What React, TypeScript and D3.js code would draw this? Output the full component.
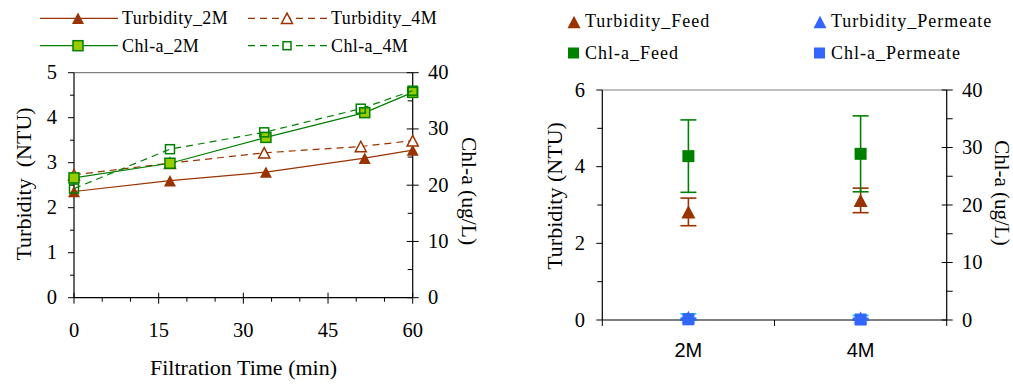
import * as d3 from 'd3';

// left panel: time series
const times2M = [0, 17, 34, 51.5, 60];
const times4M = [0, 17, 33.7, 50.8, 60];
const turbidity2M = [2.36, 2.6, 2.79, 3.1, 3.28];
const turbidity4M = [2.73, 2.99, 3.22, 3.36, 3.49];
const chla2M = [21.3, 23.9, 28.5, 32.9, 36.5];
const chla4M = [19.4, 26.4, 29.4, 33.6, 36.8];

const timeTicks = [0, 15, 30, 45, 60];
const turbTicksL = [0, 1, 2, 3, 4, 5];
const chlTicks = [0, 10, 20, 30, 40];

// right panel: feed vs permeate
const categories = ['2M', '4M'];
const turbFeed = [2.82, 3.12];
const turbFeedErr = [0.36, 0.32];
const turbPerm = [0.08, 0.06];
const turbPermErr = [0.08, 0.06];
const chlFeed = [28.5, 28.9];
const chlFeedErr = [6.3, 6.6];
const chlPerm = [0.12, 0.08];
const chlPermErr = [0.2, 0.2];
const turbTicksR = [0, 2, 4, 6];

const BROWN = '#993300';
const GREEN = '#008000';
const LIGHT = '#99CC00';
const BLUE = '#3366FF';
const CYAN = '#00CCFF';
const SERIF = '"Liberation Serif", "Times New Roman", serif';
const SANS = '"Liberation Sans", Arial, sans-serif';

const tri = (cx: number, cy: number, w: number) => {
  const h = w * 0.95;
  return `M${cx},${cy - h / 2}L${cx + w / 2},${cy + h / 2}L${cx - w / 2},${cy + h / 2}Z`;
};

function LeftChart() {
  const x = d3.scaleLinear().domain([0, 60]).range([74, 412.7]);
  const yT = d3.scaleLinear().domain([0, 5]).range([297.7, 72.7]);
  const yC = d3.scaleLinear().domain([0, 40]).range([297.7, 72.7]);
  const [x0, x1] = x.range();
  const [yb, yt] = yT.range();

  const line = (xs: number[], ys: number[], ysc: d3.ScaleLinear<number, number>) =>
    d3.line<number>().x((_, i) => x(xs[i])).y(d => ysc(d))(ys) || '';

  const minorT = d3.range(0.5, 5, 1);
  const minorC = d3.range(5, 40, 10);
  const minorX = d3.range(0, 61, 5).filter(v => v % 15 !== 0);

  return (
    <g>
      {/* legend */}
      <g fontFamily={SERIF} fontSize={18} letterSpacing={0.4} fill="#000">
        <line x1={40} x2={118} y1={18.3} y2={18.3} stroke={BROWN} strokeWidth={1.2} />
        <path d={tri(78, 18.3, 12)} fill={BROWN} />
        <text x={122} y={23.5}>Turbidity_2M</text>
        <line x1={248} x2={330} y1={18.3} y2={18.3} stroke={BROWN} strokeWidth={1.2} strokeDasharray="7,5" />
        <path d={tri(287, 18.3, 11)} fill="#fff" stroke={BROWN} strokeWidth={1.5} />
        <text x={331} y={23.5}>Turbidity_4M</text>
        <line x1={40} x2={118} y1={45.7} y2={45.7} stroke={GREEN} strokeWidth={1.2} />
        <rect x={73} y={40.7} width={10} height={10} fill={LIGHT} stroke={GREEN} strokeWidth={1.5} />
        <text x={122} y={51.5}>Chl-a_2M</text>
        <line x1={248} x2={330} y1={45.7} y2={45.7} stroke={GREEN} strokeWidth={1.2} strokeDasharray="7,5" />
        <rect x={283} y={41.7} width={8} height={8} fill="#fff" stroke={GREEN} strokeWidth={1.5} />
        <text x={331} y={51.5}>Chl-a_4M</text>
      </g>

      {/* frame */}
      <line x1={x0} x2={x1} y1={yt} y2={yt} stroke="#808080" strokeWidth={1.2} />
      <line x1={x0} x2={x0} y1={yt} y2={yb} stroke="#000" strokeWidth={1.2} />
      <line x1={x1} x2={x1} y1={yt} y2={yb} stroke="#000" strokeWidth={1.2} />
      <line x1={x0} x2={x1} y1={yb} y2={yb} stroke="#000" strokeWidth={1.2} />

      {/* left axis */}
      {turbTicksL.map(t => (
        <g key={'lt' + t}>
          <line x1={x0 - 6} x2={x0} y1={yT(t)} y2={yT(t)} stroke="#000" />
          <text x={57} y={yT(t) + 6.5} textAnchor="end" fontFamily={SERIF} fontSize={20.5}>{t}</text>
        </g>
      ))}
      {minorT.map(t => (
        <line key={'lm' + t} x1={x0 - 4} x2={x0} y1={yT(t)} y2={yT(t)} stroke="#000" />
      ))}
      {/* right axis */}
      {chlTicks.map(t => (
        <g key={'rt' + t}>
          <line x1={x1 - 6} x2={x1 + 6} y1={yC(t)} y2={yC(t)} stroke="#000" />
          <text x={428} y={yC(t) + 6.5} fontFamily={SERIF} fontSize={20.5}>{t}</text>
        </g>
      ))}
      {minorC.map(t => (
        <line key={'rm' + t} x1={x1 - 5} x2={x1} y1={yC(t)} y2={yC(t)} stroke="#000" />
      ))}
      {/* bottom axis */}
      {timeTicks.map(t => (
        <g key={'bt' + t}>
          <line x1={x(t)} x2={x(t)} y1={yb - 5} y2={yb + 6} stroke="#000" />
          <text x={x(t)} y={336.5} textAnchor="middle" fontFamily={SERIF} fontSize={20.5}>{t}</text>
        </g>
      ))}
      {minorX.map(t => (
        <line key={'bm' + t} x1={x(t)} x2={x(t)} y1={yb} y2={yb + 4} stroke="#000" />
      ))}

      <text x={243.5} y={375} textAnchor="middle" fontFamily={SERIF} fontSize={22}>Filtration Time (min)</text>
      <text transform="translate(31,184) rotate(-90)" textAnchor="middle" fontFamily={SERIF} fontSize={22}>
        {'Turbidity\u00a0 (NTU)'}
      </text>
      <text transform="translate(462,191) rotate(90)" textAnchor="middle" fontFamily={SERIF} fontSize={21.5}>
        Chl-a (ug/L)
      </text>

      {/* series */}
      <path d={line(times2M, turbidity2M, yT)} fill="none" stroke={BROWN} strokeWidth={1.2} />
      {turbidity2M.map((v, i) => (
        <path key={'t2' + i} d={tri(x(times2M[i]), yT(v), 12)} fill={BROWN} />
      ))}
      <path d={line(times4M, turbidity4M, yT)} fill="none" stroke={BROWN} strokeWidth={1.2} strokeDasharray="7,5" />
      {turbidity4M.map((v, i) => (
        <path key={'t4' + i} d={tri(x(times4M[i]), yT(v), 11)} fill="#fff" stroke={BROWN} strokeWidth={1.5} />
      ))}
      <path d={line(times2M, chla2M, yC)} fill="none" stroke={GREEN} strokeWidth={1.2} />
      {chla2M.map((v, i) => (
        <rect key={'c2' + i} x={x(times2M[i]) - 5} y={yC(v) - 5} width={10} height={10} fill={LIGHT} stroke={GREEN} strokeWidth={1.5} />
      ))}
      <path d={line(times4M, chla4M, yC)} fill="none" stroke={GREEN} strokeWidth={1.2} strokeDasharray="7,5" />
      {chla4M.map((v, i) => (
        <rect key={'c4' + i} x={x(times4M[i]) - 4.5} y={yC(v) - 4.5} width={9} height={9} fill="none" stroke={GREEN} strokeWidth={1.5} />
      ))}
    </g>
  );
}

function RightChart() {
  const x = d3.scaleBand<string>().domain(categories).range([602.3, 946.7]);
  const cx = (c: string) => (x(c) ?? 0) + x.bandwidth() / 2;
  const yT = d3.scaleLinear().domain([0, 6]).range([320, 90]);
  const yC = d3.scaleLinear().domain([0, 40]).range([320, 90]);
  const [x0, x1] = x.range();
  const [yb, yt] = yT.range();
  const minorT = [1, 3, 5];
  const minorC = [5, 15, 25, 35];
  const xTicks = [x0, ...categories.slice(1).map(c => x(c) ?? 0), x1];

  const errBar = (key: string, px: number, v: number, e: number, ysc: d3.ScaleLinear<number, number>, color: string) => (
    <g key={key} stroke={color} strokeWidth={1.6}>
      <line x1={px} x2={px} y1={ysc(v + e)} y2={ysc(Math.max(0, v - e))} />
      <line x1={px - 8} x2={px + 8} y1={ysc(v + e)} y2={ysc(v + e)} />
      <line x1={px - 8} x2={px + 8} y1={ysc(Math.max(0, v - e))} y2={ysc(Math.max(0, v - e))} />
    </g>
  );

  return (
    <g>
      {/* legend */}
      <g fontFamily={SERIF} fontSize={18} letterSpacing={1} fill="#000">
        <path d={tri(574, 22, 13)} fill={BROWN} />
        <text x={585} y={27}>Turbidity_Feed</text>
        <path d={tri(820, 22, 13)} fill={BLUE} />
        <text x={831} y={27}>Turbidity_Permeate</text>
        <rect x={568} y={47.5} width={11} height={11} fill={GREEN} />
        <text x={585} y={59}>Chl-a_Feed</text>
        <rect x={814} y={47.5} width={11} height={11} fill={BLUE} />
        <text x={831} y={59}>Chl-a_Permeate</text>
      </g>

      {/* frame */}
      <line x1={x0} x2={x1} y1={yt} y2={yt} stroke="#808080" strokeWidth={1.2} />
      <line x1={x0} x2={x0} y1={yt} y2={yb} stroke="#000" strokeWidth={1.2} />
      <line x1={x1} x2={x1} y1={yt} y2={yb} stroke="#000" strokeWidth={1.2} />

      {turbTicksR.map(t => (
        <g key={'lt' + t}>
          <line x1={x0 - 6} x2={x0} y1={yT(t)} y2={yT(t)} stroke="#000" />
          <text x={585} y={yT(t) + 6.5} textAnchor="end" fontFamily={SERIF} fontSize={20.5}>{t}</text>
        </g>
      ))}
      {minorT.map(t => (
        <line key={'lm' + t} x1={x0 - 5} x2={x0} y1={yT(t)} y2={yT(t)} stroke="#000" />
      ))}
      {chlTicks.map(t => (
        <g key={'rt' + t}>
          <line x1={x1 - 5} x2={x1 + 6} y1={yC(t)} y2={yC(t)} stroke="#000" />
          <text x={962} y={yC(t) + 6.5} fontFamily={SERIF} fontSize={20.5}>{t}</text>
        </g>
      ))}
      {minorC.map(t => (
        <line key={'rm' + t} x1={x1} x2={x1 + 6} y1={yC(t)} y2={yC(t)} stroke="#000" />
      ))}
      {xTicks.map((t, i) => (
        <line key={'bt' + i} x1={t} x2={t} y1={yb} y2={yb + 6} stroke="#000" />
      ))}
      {categories.map(c => (
        <text key={'bl' + c} x={cx(c)} y={357} textAnchor="middle" fontFamily={SANS} fontSize={20}>{c}</text>
      ))}

      <text transform="translate(562,196) rotate(-90)" textAnchor="middle" fontFamily={SERIF} fontSize={22}>
        Turbidity (NTU)
      </text>
      <text transform="translate(995,193) rotate(90)" textAnchor="middle" fontFamily={SERIF} fontSize={21}>
        Chl-a (ug/L)
      </text>

      {/* series */}
      {categories.map((c, i) => errBar('te' + i, cx(c), turbFeed[i], turbFeedErr[i], yT, BROWN))}
      {categories.map((c, i) => (
        <path key={'tf' + i} d={tri(cx(c), yT(turbFeed[i]), 14)} fill={BROWN} />
      ))}
      {categories.map((c, i) => errBar('tpe' + i, cx(c), turbPerm[i], turbPermErr[i], yT, CYAN))}
      {categories.map((c, i) => (
        <path key={'tp' + i} d={tri(cx(c), yT(turbPerm[i]), 13)} fill={BLUE} />
      ))}
      {categories.map((c, i) => errBar('ce' + i, cx(c), chlFeed[i], chlFeedErr[i], yC, GREEN))}
      {categories.map((c, i) => (
        <rect key={'cf' + i} x={cx(c) - 6} y={yC(chlFeed[i]) - 6} width={12} height={12} fill={GREEN} />
      ))}
      <line x1={x0} x2={x1} y1={yb} y2={yb} stroke="#000" strokeWidth={1.2} />
      {categories.map((c, i) => errBar('cpe' + i, cx(c), chlPerm[i], chlPermErr[i], yC, BLUE))}
      {categories.map((c, i) => (
        <rect key={'cp' + i} x={cx(c) - 6} y={yC(chlPerm[i]) - 6} width={12} height={12} fill={BLUE} />
      ))}
    </g>
  );
}

export default function App() {
  return (
    <svg width={1013} height={386} style={{ position: 'absolute', left: 0, top: 0, background: '#fff' }}>
      <LeftChart />
      <RightChart />
    </svg>
  );
}
